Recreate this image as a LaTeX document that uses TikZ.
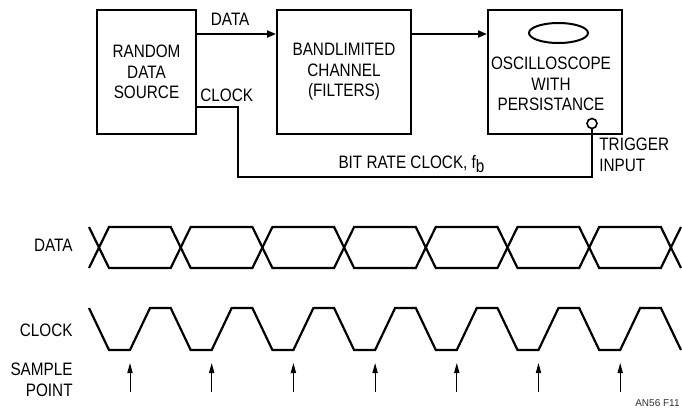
\documentclass[tikz,border=0pt]{standalone}
\usepackage{fontspec}
\setmainfont{Liberation Sans}[FakeStretch=0.85]
\newfontfamily\figfont{Liberation Sans}
\usepackage{tikz}
\usetikzlibrary{positioning, arrows.meta, shapes.geometric}

\begin{document}
\begin{tikzpicture}[x=0.5pt, y=-0.5pt,
  every node/.style={inner sep=0pt, font=\fontsize{9pt}{10.3pt}\selectfont},
  block/.style={draw, line width=1pt, align=center,
                minimum width=#1, minimum height=62pt},
  lbl/.style={align=left},
  sig/.style={-{Triangle[length=4.5pt, width=3.5pt]}, line width=1pt},
  link/.style={line width=1pt},
  wave/.style={line width=1.1pt, line join=miter},
  sample/.style={-{Triangle[length=5pt, width=2.6pt]}, line width=0.5pt}]
\useasboundingbox (0,0) rectangle (682,409);

% measurement setup
\node[block=49.5pt] (src)   at (146.5,72) {RANDOM\\DATA\\SOURCE};
\node[block=67pt]   (chan)  at (344,72)   {BANDLIMITED\\CHANNEL\\(FILTERS)};
\node[block=67pt]   (scope) at (555,72)   {};
\node[draw, ellipse, line width=1pt, minimum width=29.5pt, minimum height=10pt]
  (screen) at (558.5,33) {};
\node[align=center] (scopetxt) at (551,84) {OSCILLOSCOPE\\WITH\\PERSISTANCE};
\node[circle, draw, line width=0.8pt, minimum size=5pt] (trig) at (592,123.5) {};

\draw[sig] ([yshift=19pt]src.east) -- ([yshift=19pt]chan.west)
  node[pos=0.42, above=4pt] (ldata) {DATA};
\draw[sig] ([yshift=19pt]chan.east) -- ([yshift=19pt]scope.west);

\coordinate (bend) at (238,176.5);
\draw[link] ([yshift=-17.5pt]src.east) -| (bend) -| (trig);
\node[anchor=west] (lclock) at (200,95.5) {CLOCK};
\node (lbit) at (411.5,164) {BIT RATE CLOCK, f\raisebox{-0.45ex}{b}};
\node[lbl, anchor=north west] (ltrig) at (599,138) {TRIGGER\\INPUT};

% timing diagram
\node[anchor=east] (tdata)   at (73,245.5) {DATA};
\node[anchor=east] (tclock)  at (73,330)   {CLOCK};
\node[anchor=east, align=right] (tsample) at (73,380) {SAMPLE\\POINT};

\draw[wave] (89,227) -- (99,247.5) -- (89,268);
\foreach \k in {0,...,6} {
  \pgfmathsetmacro\c{99+81.7*\k}
  \draw[wave] (\c,247.5) -- (\c+10,227) -- (\c+71.7,227) -- (\c+81.7,247.5)
    -- (\c+71.7,268) -- (\c+10,268) -- cycle;
  \draw[sample] (\c+31,392) -- (\c+31,363);
}
\draw[wave] (681,227) -- (670.9,247.5) -- (681,268);

\draw[wave] (89,308) \foreach \k in {0,...,6} {
    -- ({99+81.7*\k+10},350) -- ({99+81.7*\k+31},350)
    -- ({99+81.7*\k+51},308) -- ({99+81.7*\k+71.7},308)
  } -- (681,350);

\node[anchor=base east, font=\figfont\fontsize{5pt}{6pt}\selectfont, text=black!80]
  (fig) at (680,406) {AN56 F11};
\end{tikzpicture}
\end{document}
